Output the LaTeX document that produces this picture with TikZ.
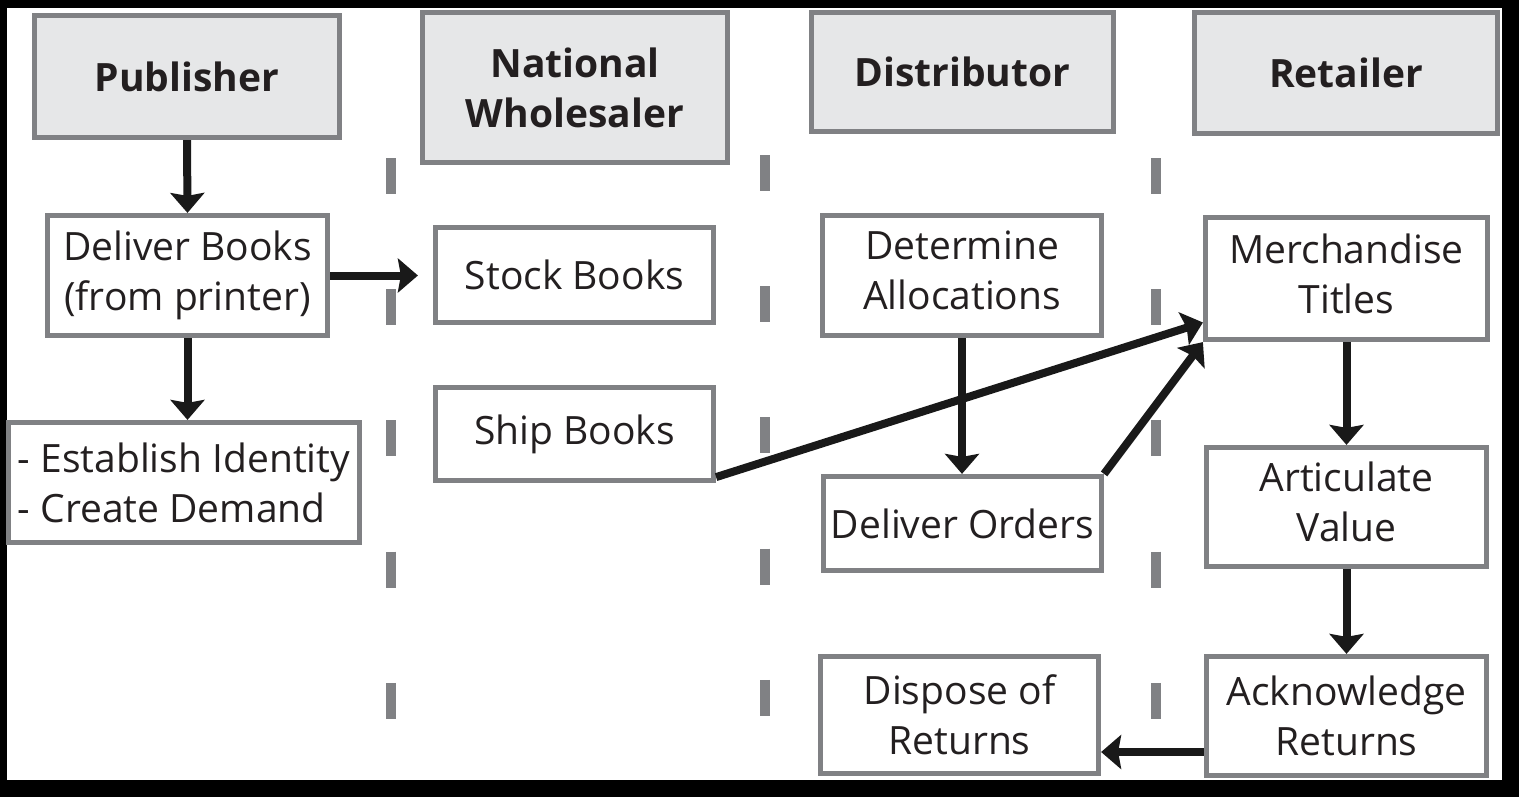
\documentclass[tikz,border=0pt]{standalone}
\usepackage{fontspec}
\setmainfont{Open Sans}
\usetikzlibrary{arrows.meta,calc}
\definecolor{bordergray}{HTML}{808184}
\definecolor{headfill}{HTML}{E6E7E8}
\definecolor{txt}{HTML}{231F20}
\tikzset{
  box/.style={draw=bordergray, line width=2.6pt, fill=white, inner sep=0pt,
    align=center, text=txt, font=\fontsize{19.5}{25}\selectfont},
  headbox/.style={box, fill=headfill, font=\fontsize{19.5}{25}\selectfont\bfseries},
  lifted/.style={text depth=5pt},
  flow/.style={draw=black!90, line width=4pt,
    -{Stealth[length=10pt,width=17pt,inset=1.5pt]}},
  divider/.style={draw=bordergray, line width=5pt, dash pattern=on 18pt off 47.6pt}
}
\begin{document}
\begin{tikzpicture}[x=0.5pt,y=-0.5pt]
\useasboundingbox (0,0) rectangle (1519,797);
\fill[black] (0,0) rectangle (1519,797);
\fill[white] (7,8) rectangle (1502,780);
% dividers
\draw[divider] (391,158) -- (391,720);
\draw[divider] (765,155) -- (765,720);
\draw[divider] (1156,158) -- (1156,720);
% headers
\node[headbox, minimum width=152.5pt, minimum height=61pt] (pub) at (187,76.5) {Publisher};
\node[headbox, minimum width=152.5pt, minimum height=75pt] (nat) at (575,87.5) {National\\Wholesaler};
\node[headbox, minimum width=151pt, minimum height=59.5pt] (dist) at (962.5,72) {Distributor};
\node[headbox, minimum width=151.5pt, minimum height=60.5pt] (ret) at (1346,73) {Retailer};
% boxes
\node[box, minimum width=140pt, minimum height=60pt] (deliver) at (187.5,275.5) {Deliver Books\\(from printer)};
\node[box, minimum width=175.5pt, minimum height=60pt, align=left] (estab) at (184,482.5) {- Establish Identity\\- Create Demand};
\node[box, minimum width=139pt, minimum height=47.5pt] (stock) at (574.5,275) {Stock Books};
\node[box, minimum width=139pt, minimum height=46.5pt] (ship) at (574.5,434) {Ship Books};
\node[box, lifted, minimum width=139.5pt, minimum height=60pt] (det) at (962,275.5) {Determine\\Allocations};
\node[box, minimum width=139pt, minimum height=47pt] (ord) at (962.5,523.5) {Deliver Orders};
\node[box, minimum width=139pt, minimum height=58.5pt] (disp) at (959.5,715) {Dispose of\\Returns};
\node[box, lifted, minimum width=141pt, minimum height=61pt] (merch) at (1346.5,278.5) {Merchandise\\Titles};
\node[box, lifted, minimum width=140pt, minimum height=59.5pt] (art) at (1346.5,507) {Articulate\\Value};
\node[box, minimum width=140pt, minimum height=59.5pt] (ack) at (1346.5,716) {Acknowledge\\Returns};
% connectors
\draw[flow] (pub.south) -- (deliver.north);
\draw[flow] (deliver.south) -- (estab.north -| deliver.south);
\draw[flow, shorten >=7.5pt] (deliver.east) -- (stock.west |- deliver.east);
\draw[flow] ($(ship.south east)+(0,-6)$) -- ($(merch.west)+(0,44)$);
\draw[flow] (det.south) -- (ord.north -| det.south);
\draw[flow] (ord.north east) -- (merch.south west);
\draw[flow] (merch.south) -- (art.north);
\draw[flow] (art.south) -- (ack.north);
\draw[flow] ($(ack.west)+(0,36)$) -- ($(disp.east)+(0,37)$);
\end{tikzpicture}
\end{document}
